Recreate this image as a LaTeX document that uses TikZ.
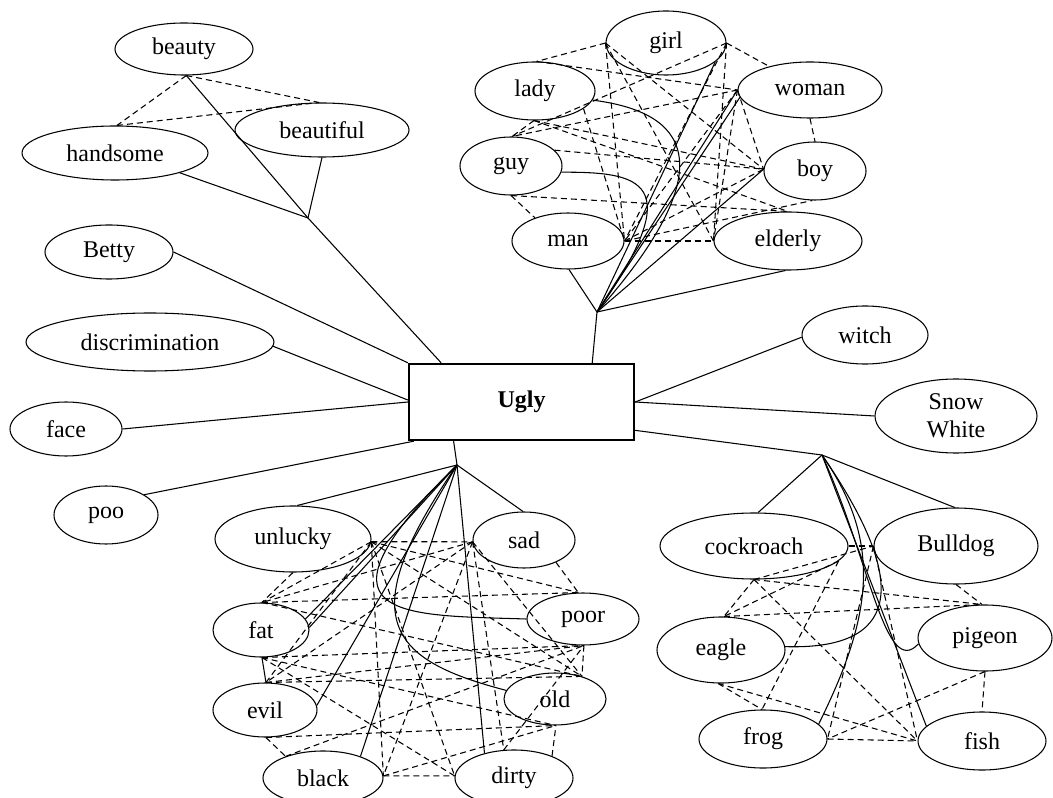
\documentclass[tikz,border=0pt]{standalone}
\usepackage{fontspec}
\setmainfont{Liberation Serif}
\usetikzlibrary{shapes.geometric}
\begin{document}
\begin{tikzpicture}[x=0.75pt,y=-0.75pt,line width=0.8pt,
  el/.style 2 args={ellipse,draw,minimum width=#1*1.5pt,minimum height=#2*1.5pt,
    inner sep=0pt,align=center,font=\fontsize{18}{21}\selectfont},
  link/.style={dash pattern=on 4.5pt off 3pt},
  hub/.style={draw,line width=1.8pt,minimum width=168.75pt,minimum height=57pt,
    inner sep=0pt,font=\bfseries\fontsize{18}{21}\selectfont}]
\useasboundingbox (0,0) rectangle (1053,798);

% central concept
\node[hub] (Ugly) at (521.5,402) {Ugly};

% left group
\node[el={69}{26}] (beauty) at (184,49) {beauty};
\node[el={93}{27}] (handsome) at (115,153) {handsome};
\node[el={87}{27}] (beautiful) at (322,130) {beautiful};
\node[el={64}{27}] (Betty) at (109,252) {Betty};
\node[el={124}{29}] (discrimination) at (150,342) {discrimination};
\node[el={56}{27}] (face) at (66,429) {face};
\node[el={52}{29}] (poo) at (106,515) {poo};

% people group
\node[el={60}{32}] (girl) at (666,43) {girl};
\node[el={60}{29}] (lady) at (535,91) {lady};
\node[el={72}{28}] (woman) at (810,90) {woman};
\node[el={51}{29}] (guy) at (511,166) {guy};
\node[el={51}{29}] (boy) at (815,171) {boy};
\node[el={56}{28}] (man) at (568,241) {man};
\node[el={74}{29}] (elderly) at (788,241) {elderly};

% right group
\node[el={63}{29}] (witch) at (865,335) {witch};
\node[el={81}{37}] (SnowWhite) at (956,416) {Snow\\White};

% animals
\node[el={94}{33}] (cockroach) at (754,546) {cockroach};
\node[el={82}{38}] (Bulldog) at (956,546) {Bulldog};
\node[el={67}{33}] (pigeon) at (985,638) {pigeon};
\node[el={64}{33}] (eagle) at (721,650) {eagle};
\node[el={64}{29}] (frog) at (763,739) {frog};
\node[el={64}{29}] (fish) at (982,741) {fish};

% attributes
\node[el={78}{33}] (unlucky) at (293,539) {unlucky};
\node[el={51}{28}] (sad) at (524,540) {sad};
\node[el={56}{26}] (poor) at (583,619) {poor};
\node[el={48}{27}] (fat) at (261,630) {fat};
\node[el={52}{27}] (evil) at (265,710) {evil};
\node[el={51}{26}] (old) at (555,699) {old};
\node[el={60}{27}] (black) at (323,778) {black};
\node[el={59}{28}] (dirty) at (514,778) {dirty};

% branch points
\coordinate (JA) at (308,218);
\coordinate (JT) at (597,312);
\coordinate (JB) at (457,465);
\coordinate (JR) at (822,455);

% ---- solid links ----
\draw (beauty.-85) -- (JA) -- (Ugly.154.7);
\draw (handsome.-17) -- (JA);
\draw (beautiful.-90) -- (JA);
\draw (Betty.0) -- (Ugly.north west);
\draw (discrimination.-2) -- (Ugly.179);
\draw (face.0) -- (Ugly.180.5);
\draw (poo.28) -- (Ugly.200);

\draw (Ugly.29.4) -- (JT);
\draw (JT) -- (man.-88);
\draw (JT) -- (elderly.-95);
\draw (JT) -- (boy.178);
\draw (JT) -- (woman.180);
\draw (JT) -- (woman.186);
\draw (JT) -- (girl.-21);
\draw (JT) .. controls (740,150) and (670,110) .. (lady.-9);
\draw (JT) .. controls (690,180) and (640,172) .. (guy.-7);

\draw (Ugly.0.5) -- (witch.182);
\draw (Ugly.-0.5) -- (SnowWhite.180);
\draw (Ugly.-14.9) -- (JR);
\draw (JR) -- (cockroach.83);
\draw (JR) -- (Bulldog.92);
\draw (JR) -- (fish.165);
\draw (JR) .. controls (885,545) and (870,620) .. (frog.15);
\draw (JR) .. controls (915,590) and (895,650) .. (eagle.3);
\draw (JR) .. controls (870,560) and (885,680) .. (pigeon.185);

\draw (Ugly.210.9) -- (JB);
\draw (JB) -- (unlucky.83);
\draw (JB) -- (sad.92);
\draw (JB) -- (dirty.140);
\draw (JB) -- (black.30);
\draw (JB) -- (evil.5);
\draw (JB) -- (fat.3);
\draw (JB) -- (fat.14);
\draw (JB) .. controls (300,620) and (400,615) .. (poor.180);
\draw (JB) .. controls (350,620) and (390,660) .. (old.170);
\draw (fat.-88) -- (evil.88);

% ---- dashed links ----
\draw[link] (beauty.-85) -- (handsome.86);
\draw[link] (beauty.-85) -- (beautiful.96);
\draw[link] (handsome.86) -- (beautiful.96);

\draw[link] (girl.180) -- (lady.87);
\draw[link] (girl.180) -- (man.0);
\draw[link] (girl.180) -- (boy.178);
\draw[link] (girl.180) -- (elderly.180);
\draw[link] (girl.0) -- (woman.150);
\draw[link] (girl.0) -- (guy.88);
\draw[link] (girl.0) -- (man.0);
\draw[link] (girl.0) -- (elderly.180);
\draw[link] (lady.87) -- (woman.180);
\draw[link] (lady.-92) -- (boy.178);
\draw[link] (lady.-92) -- (guy.88);
\draw[link] (lady.-92) -- (elderly.90);
\draw[link] (lady.-20) -- (man.0);
\draw[link] (woman.180) -- (guy.88);
\draw[link] (woman.180) -- (man.0);
\draw[link] (woman.180) -- (elderly.180);
\draw[link] (woman.180) -- (boy.178);
\draw[link] (woman.-90) -- (boy.90);
\draw[link] (guy.-90) -- (man.145);
\draw[link] (guy.-90) -- (elderly.90);
\draw[link] (guy.20) -- (boy.178);
\draw[link] (man.0) -- (elderly.180);
\draw[link] (man.0) -- (boy.178);
\draw[link] (man.0) -- (boy.-95);

\draw[link] (cockroach.0) -- (Bulldog.180);
\draw[link] (cockroach.-90) -- (Bulldog.180);
\draw[link] (cockroach.-90) -- (eagle.85);
\draw[link] (cockroach.-90) -- (pigeon.95);
\draw[link] (cockroach.-90) -- (fish.180);
\draw[link] (cockroach.-10) -- (eagle.85);
\draw[link] (cockroach.-10) -- (frog.92);
\draw[link] (Bulldog.180) -- (fish.180);
\draw[link] (Bulldog.180) -- (frog.0);
\draw[link] (eagle.85) -- (pigeon.95);
\draw[link] (Bulldog.-90) -- (pigeon.95);
\draw[link] (pigeon.-90) -- (fish.90);
\draw[link] (pigeon.-90) -- (frog.0);
\draw[link] (eagle.-95) -- (fish.180);
\draw[link] (eagle.-95) -- (frog.92);
\draw[link] (frog.0) -- (fish.180);

\draw[link] (unlucky.-2) -- (sad.182);
\draw[link] (unlucky.-2) -- (fat.88);
\draw[link] (unlucky.-2) -- (evil.88);
\draw[link] (unlucky.-2) -- (black.2);
\draw[link] (unlucky.-2) -- (dirty.178);
\draw[link] (unlucky.-2) -- (old.40);
\draw[link] (unlucky.-2) -- (poor.100);
\draw[link] (sad.182) -- (fat.88);
\draw[link] (sad.182) -- (evil.88);
\draw[link] (sad.182) -- (black.2);
\draw[link] (sad.182) -- (dirty.110);
\draw[link] (sad.182) -- (old.40);
\draw[link] (sad.-35) -- (poor.100);
\draw[link] (unlucky.-90) -- (fat.88);
\draw[link] (fat.88) -- (poor.100);
\draw[link] (fat.88) -- (old.40);
\draw[link] (fat.-88) -- (poor.-88);
\draw[link] (fat.-88) -- (old.-88);
\draw[link] (fat.-88) -- (dirty.178);
\draw[link] (evil.88) -- (poor.-88);
\draw[link] (evil.88) -- (old.40);
\draw[link] (evil.-88) -- (old.-88);
\draw[link] (evil.-88) -- (black.150);
\draw[link] (black.150) -- (poor.-88);
\draw[link] (black.2) -- (dirty.178);
\draw[link] (black.2) -- (old.-88);
\draw[link] (dirty.110) -- (poor.-88);
\draw[link] (dirty.30) -- (old.-88);
\draw[link] (poor.-88) -- (old.40);
\end{tikzpicture}
\end{document}
